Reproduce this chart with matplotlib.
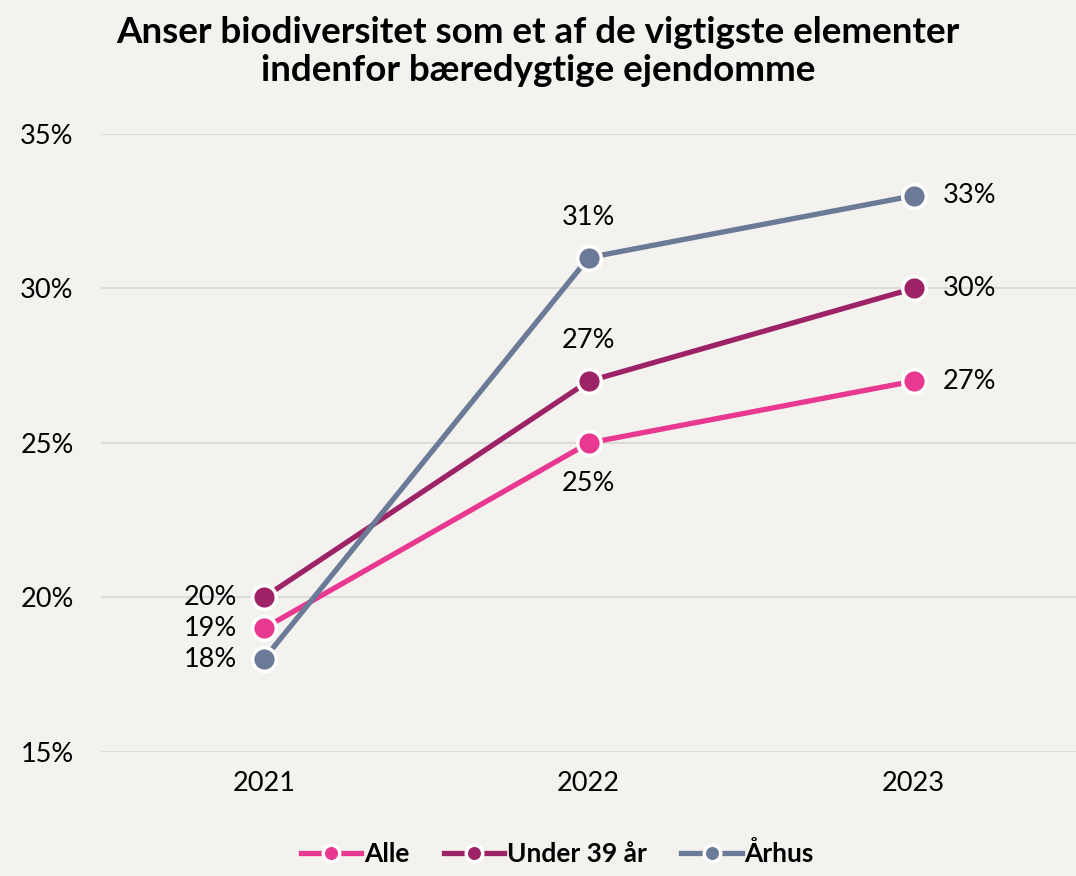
import matplotlib.pyplot as plt
from matplotlib.ticker import PercentFormatter

plt.rcParams['font.family'] = ['Lato', 'DejaVu Sans']

years = ['2021', '2022', '2023']
alle = [19, 25, 27]
under39 = [20, 27, 30]
aarhus = [18, 31, 33]

series = [
    ('Alle', alle, '#E8388F', ['left', 'below', 'right']),
    ('Under 39 år', under39, '#9E2366', ['left', 'above', 'right']),
    ('Århus', aarhus, '#6B7A96', ['left', 'above', 'right']),
]

bg = '#F4F2EE'
fig = plt.figure(figsize=(10.76, 8.76), dpi=100, facecolor=bg)
ax = fig.add_axes([0.0943, 0.1416, 0.9057, 0.7055])
ax.set_facecolor(bg)

fs = 19.5
x = list(range(len(years)))
for name, vals, col, pos in series:
    ax.plot(x, vals, color=col, lw=3.8, marker='o', ms=17, mfc=col,
            mec='white', mew=2.5, label=name, zorder=3)
    for xi, v, p in zip(x, vals, pos):
        txt = f'{v}%'
        if p == 'left':
            ax.annotate(txt, (xi, v), xytext=(-19, 0), textcoords='offset points',
                        ha='right', va='center', fontsize=fs)
        elif p == 'right':
            ax.annotate(txt, (xi, v), xytext=(21, 0), textcoords='offset points',
                        ha='left', va='center', fontsize=fs)
        elif p == 'above':
            ax.annotate(txt, (xi, v), xytext=(0, 20), textcoords='offset points',
                        ha='center', va='bottom', fontsize=fs)
        else:
            ax.annotate(txt, (xi, v), xytext=(0, -20), textcoords='offset points',
                        ha='center', va='top', fontsize=fs)

ax.set_xlim(-0.5, 2.5)
ax.set_ylim(15, 35)
ax.set_yticks([15, 20, 25, 30, 35])
ax.yaxis.set_major_formatter(PercentFormatter(decimals=0))
ax.set_xticks(x)
ax.set_xticklabels(years)
ax.tick_params(length=0, labelsize=fs, pad=14)
ax.tick_params(axis='y', pad=20)
ax.grid(axis='y', color='#D9D9D9', lw=1.3, zorder=0)
for s in ax.spines.values():
    s.set_visible(False)
ax.set_axisbelow(True)

fig.suptitle('Anser biodiversitet som et af de vigtigste elementer\nindenfor bæredygtige ejendomme',
             fontsize=26.5, fontweight='bold', y=0.982, linespacing=1.2)

leg = fig.legend(loc='lower center', bbox_to_anchor=(0.518, -0.016), ncol=3, frameon=False,
                 prop={'weight': 'bold', 'size': 19}, handlelength=2.3, columnspacing=1.3,
                 handletextpad=0.1, markerscale=0.7)

fig.savefig('out.png', dpi=100, facecolor=bg)
